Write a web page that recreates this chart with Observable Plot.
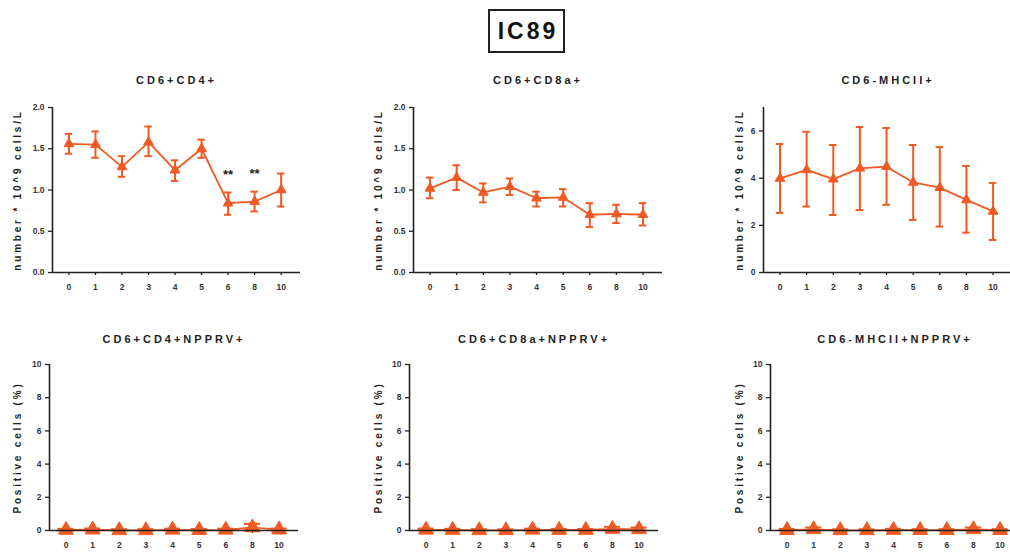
<!DOCTYPE html>
<html>
<head>
<meta charset="utf-8">
<script src="https://cdn.jsdelivr.net/npm/d3@7"></script>
<script src="https://cdn.jsdelivr.net/npm/@observablehq/plot@0.6"></script>
<style>
  html, body { margin: 0; padding: 0; background: #fff; }
  #wrap { position: relative; width: 1010px; height: 556px; overflow: hidden; font-family: "Liberation Sans", Arial, sans-serif; }
  #wrap svg { position: absolute; left: 0; top: 0; background: transparent; max-width: none !important; width: 1040px !important; height: 556px !important; }
  #maintitle { position: absolute; left: 488px; top: 9px; width: 70px; height: 40px; border: 2px solid #222;
    font: bold 23px "Liberation Sans", Arial, sans-serif; letter-spacing: 3px; color: #111;
    display: flex; align-items: center; justify-content: center; padding-left: 3px; box-sizing: content-box; }
</style>
</head>
<body>
<div id="wrap"><div id="maintitle">IC89</div></div>
<script>
// ---- data ----
const days = ["0", "1", "2", "3", "4", "5", "6", "8", "10"];

const cd4Mean = [1.56, 1.55, 1.28, 1.58, 1.24, 1.50, 0.84, 0.86, 1.00];
const cd4Low  = [1.44, 1.39, 1.16, 1.41, 1.11, 1.39, 0.70, 0.74, 0.80];
const cd4High = [1.68, 1.71, 1.41, 1.77, 1.36, 1.61, 0.97, 0.98, 1.20];
const cd4Sig  = ["", "", "", "", "", "", "**", "**", ""];

const cd8Mean = [1.02, 1.15, 0.97, 1.04, 0.90, 0.91, 0.70, 0.71, 0.70];
const cd8Low  = [0.90, 1.00, 0.85, 0.94, 0.80, 0.80, 0.55, 0.60, 0.57];
const cd8High = [1.15, 1.30, 1.08, 1.14, 0.98, 1.01, 0.84, 0.82, 0.84];

const mhcMean = [3.99, 4.35, 3.96, 4.42, 4.49, 3.82, 3.60, 3.08, 2.59];
const mhcLow  = [2.53, 2.80, 2.44, 2.65, 2.87, 2.23, 1.95, 1.69, 1.38];
const mhcHigh = [5.45, 5.97, 5.41, 6.17, 6.13, 5.41, 5.32, 4.52, 3.80];

const cd4NpMean = [0.03, 0.05, 0.01, 0.01, 0.04, 0.02, 0.04, 0.18, 0.05];
const cd4NpLow  = [0.00, 0.00, 0.00, 0.00, 0.00, 0.00, 0.00, 0.00, 0.00];
const cd4NpHigh = [0.10, 0.12, 0.08, 0.08, 0.11, 0.09, 0.11, 0.40, 0.12];

const cd8NpMean = [0.04, 0.03, 0.01, 0.01, 0.04, 0.03, 0.03, 0.09, 0.07];
const cd8NpLow  = [0.00, 0.00, 0.00, 0.00, 0.00, 0.00, 0.00, 0.00, 0.00];
const cd8NpHigh = [0.12, 0.10, 0.08, 0.07, 0.11, 0.10, 0.09, 0.22, 0.18];

const mhcNpMean = [0.02, 0.07, 0.01, 0.01, 0.03, 0.02, 0.02, 0.07, 0.02];
const mhcNpLow  = [0.00, 0.00, 0.00, 0.00, 0.00, 0.00, 0.00, 0.00, 0.00];
const mhcNpHigh = [0.09, 0.18, 0.07, 0.07, 0.10, 0.08, 0.08, 0.18, 0.08];

const panelTitles = ["CD6+CD4+", "CD6+CD8a+", "CD6-MHCII+", "CD6+CD4+NPPRV+", "CD6+CD8a+NPPRV+", "CD6-MHCII+NPPRV+"];
const countLabel = "number * 10^9 cells/L";
const pctLabel = "Positive cells (%)";

// ---- layout / style ----
const COLOR = "#f05a22";
const INK = "#222";
const W = 1040, H = 556;
const xDomain = [-0.62, 8.73];

function rows(mean, low, high, sig) {
  return days.map((d, i) => ({i, m: mean[i], lo: low[i], hi: high[i], sig: sig ? sig[i] : ""}));
}

const panels = [
  {data: rows(cd4Mean, cd4Low, cd4High, cd4Sig), title: panelTitles[0], ylab: countLabel, left: 52, top: 107, fw: 248, fh: 165,
   yDomain: [0, 2], yTicks: [0, 0.5, 1, 1.5, 2], fmt: d3.format(".1f"), labDx: -35, titleDy: -31, big: false},
  {data: rows(cd8Mean, cd8Low, cd8High), title: panelTitles[1], ylab: countLabel, left: 413, top: 107, fw: 249, fh: 165,
   yDomain: [0, 2], yTicks: [0, 0.5, 1, 1.5, 2], fmt: d3.format(".1f"), labDx: -35, titleDy: -31, big: false},
  {data: rows(mhcMean, mhcLow, mhcHigh), title: panelTitles[2], ylab: countLabel, left: 763, top: 107, fw: 249, fh: 165,
   yDomain: [0, 7], yTicks: [0, 2, 4, 6], fmt: d3.format("d"), labDx: -24, titleDy: -31, big: false},
  {data: rows(cd4NpMean, cd4NpLow, cd4NpHigh), title: panelTitles[3], ylab: pctLabel, left: 49, top: 364, fw: 249, fh: 166,
   yDomain: [0, 10], yTicks: [0, 2, 4, 6, 8, 10], fmt: d3.format("d"), labDx: -32, titleDy: -29, big: true},
  {data: rows(cd8NpMean, cd8NpLow, cd8NpHigh), title: panelTitles[4], ylab: pctLabel, left: 409, top: 364, fw: 249, fh: 166,
   yDomain: [0, 10], yTicks: [0, 2, 4, 6, 8, 10], fmt: d3.format("d"), labDx: -31, titleDy: -29, big: true},
  {data: rows(mhcNpMean, mhcNpLow, mhcNpHigh), title: panelTitles[5], ylab: pctLabel, left: 770, top: 364, fw: 249, fh: 166,
   yDomain: [0, 10], yTicks: [0, 2, 4, 6, 8, 10], fmt: d3.format("d"), labDx: -31, titleDy: -29, big: true}
];

const wrap = document.getElementById("wrap");

for (const p of panels) {
  const capHalf = p.big ? 0.3 : 0.14;
  const chart = Plot.plot({
    width: W,
    height: H,
    marginLeft: p.left,
    marginTop: p.top,
    marginRight: W - p.left - p.fw,
    marginBottom: H - p.top - p.fh,
    style: {fontFamily: '"Liberation Sans", Arial, sans-serif', color: INK, background: "transparent", overflow: "visible", maxWidth: "none"},
    x: {domain: xDomain, axis: null},
    y: {domain: p.yDomain, axis: null},
    marks: [
      Plot.axisX(d3.range(days.length), {tickFormat: (i) => days[i], tickSize: 3, tickPadding: 8, fontSize: 8.5, fontWeight: "bold", strokeWidth: 1.3, label: null, fill: "#333"}),
      Plot.axisY(p.yTicks, {tickFormat: p.fmt, tickSize: 4, tickPadding: 4, fontSize: 8.5, fontWeight: "bold", strokeWidth: 1.3, label: null, fill: "#333"}),
      Plot.ruleX(p.data, {x: "i", y1: "lo", y2: "hi", stroke: COLOR, strokeWidth: 2}),
      Plot.ruleY(p.data, {y: "lo", x1: (d) => d.i - capHalf, x2: (d) => d.i + capHalf, stroke: COLOR, strokeWidth: 2}),
      Plot.ruleY(p.data, {y: "hi", x1: (d) => d.i - capHalf, x2: (d) => d.i + capHalf, stroke: COLOR, strokeWidth: 2}),
      Plot.line(p.data, {x: "i", y: "m", stroke: COLOR, strokeWidth: 1.8}),
      Plot.dot(p.data, {x: "i", y: "m", symbol: "triangle", fill: COLOR, stroke: COLOR, strokeWidth: 1, r: p.big ? 5.5 : 3.6}),
      Plot.ruleY([p.yDomain[0]], {stroke: INK, strokeWidth: 1.6}),
      Plot.ruleX([xDomain[0]], {stroke: INK, strokeWidth: 1.6}),
      Plot.text(p.data.filter((d) => d.sig), {x: "i", y: "hi", text: "sig", dy: -18, fontSize: 13, fontWeight: "bold", fill: INK}),
      Plot.text([p.title], {frameAnchor: "top", dy: p.titleDy, fontSize: 11, fontWeight: "bold", fill: INK}),
      Plot.text([p.ylab], {frameAnchor: "left", textAnchor: "middle", dx: p.labDx, rotate: -90, fontSize: 10, fontWeight: "bold", fill: INK})
    ]
  });
  // letter spacing like the reference export
  chart.querySelectorAll("text").forEach((t) => {
    const s = t.textContent;
    if (s === p.title) t.style.letterSpacing = "3px";
    else if (s === p.ylab) t.style.letterSpacing = "2.8px";
  });
  wrap.appendChild(chart);
}
</script>
</body>
</html>
